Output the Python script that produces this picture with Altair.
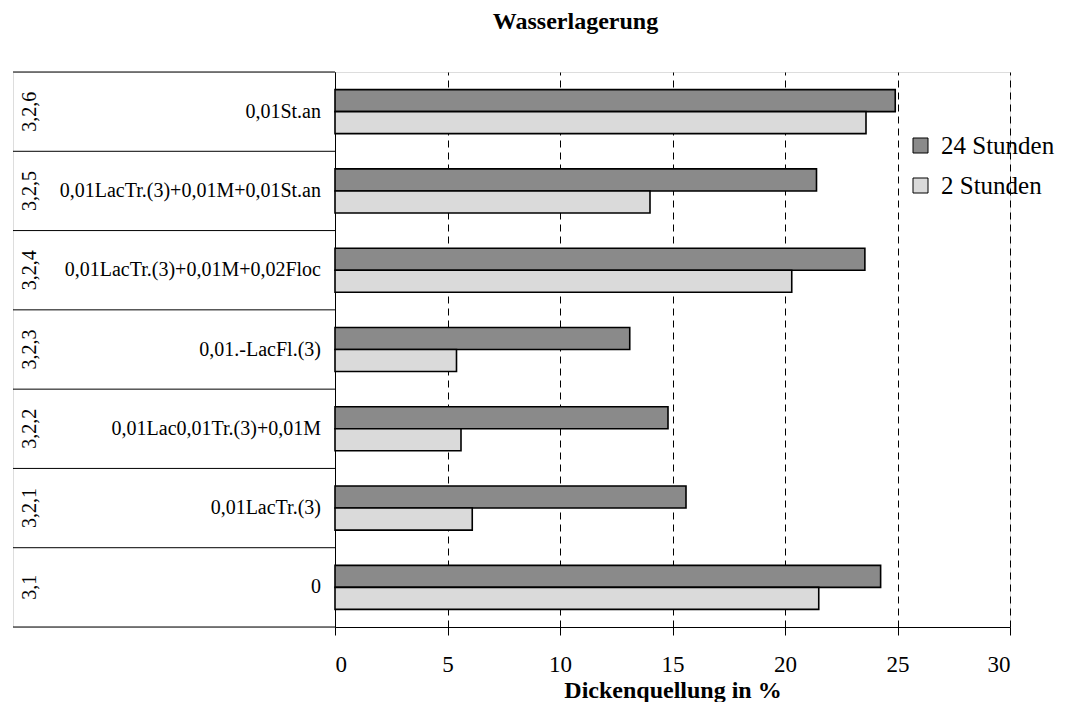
import altair as alt
import pandas as pd

# Versuchsreihen (Code und Rezeptur), von oben nach unten
codes = ["3,2,6", "3,2,5", "3,2,4", "3,2,3", "3,2,2", "3,2,1", "3,1"]
recipes = [
    "0,01St.an",
    "0,01LacTr.(3)+0,01M+0,01St.an",
    "0,01LacTr.(3)+0,01M+0,02Floc",
    "0,01.-LacFl.(3)",
    "0,01Lac0,01Tr.(3)+0,01M",
    "0,01LacTr.(3)",
    "0",
]
series = ["24 Stunden", "2 Stunden"]
swell_24h = [24.9, 21.4, 23.55, 13.1, 14.8, 15.6, 24.25]
swell_2h = [23.6, 14.0, 20.3, 5.4, 5.6, 6.1, 21.5]
x_ticks = [0, 5, 10, 15, 20, 25, 30]

FONT = "Liberation Serif"
n = len(codes)

bars_df = pd.DataFrame(
    [{"code": c, "series": series[0], "value": v} for c, v in zip(codes, swell_24h)]
    + [{"code": c, "series": series[1], "value": v} for c, v in zip(codes, swell_2h)]
)
labels_df = pd.DataFrame(
    {"code": codes, "recipe": recipes, "pos": [n - i - 0.5 for i in range(n)]}
)
bounds_df = pd.DataFrame({"b": list(range(n + 1))})

row_scale = alt.Scale(domain=[0, n], nice=False, zero=False)

# Linke Beschriftungstabelle
rules = alt.Chart(bounds_df).mark_rule(color="black", strokeWidth=1).encode(
    y=alt.Y("b:Q", scale=row_scale, axis=None),
    x=alt.value(0),
    x2=alt.value(322),
)
recipe_text = alt.Chart(labels_df).mark_text(
    align="right", baseline="middle", font=FONT, fontSize=20, color="black"
).encode(
    y=alt.Y("pos:Q", scale=row_scale, axis=None),
    x=alt.value(308),
    text="recipe:N",
)
code_text = alt.Chart(labels_df).mark_text(
    align="center", baseline="middle", angle=270, font=FONT, fontSize=20, color="black"
).encode(
    y=alt.Y("pos:Q", scale=row_scale, axis=None),
    x=alt.value(17),
    text="code:N",
)
left = alt.layer(rules, recipe_text, code_text).properties(width=322, height=555)

# Balkendiagramm
bars = alt.Chart(bars_df).mark_bar(stroke="black", strokeWidth=1.6).encode(
    x=alt.X(
        "value:Q",
        scale=alt.Scale(domain=[0, 30], nice=False),
        axis=alt.Axis(
            values=x_ticks,
            grid=True,
            gridDash=[7, 5],
            gridColor="black",
            gridOpacity=1,
            gridWidth=1,
            domainColor="black",
            tickColor="black",
            tickSize=8,
            labelFont=FONT,
            labelFontSize=23,
            labelColor="black",
            labelPadding=18,
            title="Dickenquellung in %",
            titleFont=FONT,
            titleFontSize=24,
            titleFontWeight="bold",
            titleColor="black",
            titlePadding=2,
        ),
    ),
    y=alt.Y(
        "code:N",
        sort=codes,
        scale=alt.Scale(paddingInner=0, paddingOuter=0),
        axis=alt.Axis(labels=False, ticks=False, title=None, domainColor="black", grid=False),
    ),
    yOffset=alt.YOffset(
        "series:N", sort=series, scale=alt.Scale(paddingOuter=0.8, paddingInner=0)
    ),
    color=alt.Color(
        "series:N",
        sort=series,
        scale=alt.Scale(domain=series, range=["#8a8a8a", "#dadada"]),
        legend=alt.Legend(
            title=None,
            orient="none",
            legendX=895,
            legendY=61,
            labelFont=FONT,
            labelFontSize=25,
            labelColor="black",
            symbolType="square",
            symbolSize=225,
            symbolStrokeColor="black",
            symbolStrokeWidth=1,
            symbolOpacity=1,
            rowPadding=14,
            labelOffset=8,
        ),
    ),
).properties(width=675, height=555)

chart = (
    alt.hconcat(left, bars, spacing=0, bounds="flush")
    .properties(
        title=alt.TitleParams(
            "Wasserlagerung",
            font=FONT,
            fontSize=24,
            fontWeight="bold",
            color="black",
            anchor="middle",
            offset=37,
            dx=42,
        ),
        padding={"left": 12, "top": 10, "right": 0, "bottom": 0},
    )
    .configure_view(stroke=None)
    .configure(background="white")
)

chart.save("out.html", embed_options={"renderer": "svg", "actions": False})
